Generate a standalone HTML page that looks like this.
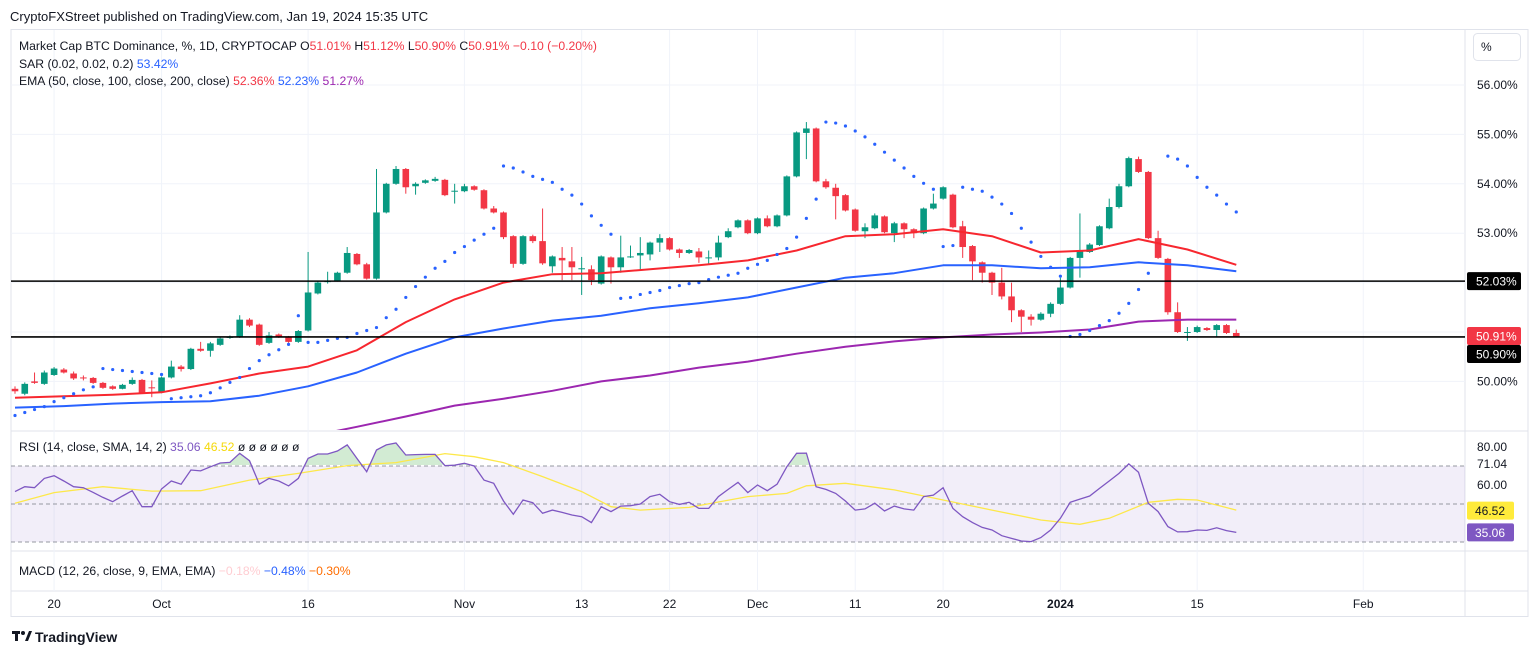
<!DOCTYPE html>
<html><head><meta charset="utf-8"><style>
body{margin:0;background:#fff;font-family:"Liberation Sans",sans-serif;}
svg text{font-family:"Liberation Sans",sans-serif;}
</style></head><body>
<svg id="c" width="1536" height="656" viewBox="0 0 1536 656" xmlns="http://www.w3.org/2000/svg">
<defs>
<clipPath id="pp"><rect x="11" y="30" width="1454" height="400"/></clipPath>
<clipPath id="rp"><rect x="11" y="432" width="1454" height="118"/></clipPath>
<clipPath id="above70"><rect x="11" y="432" width="1454" height="33"/></clipPath>
</defs>
<rect x="0" y="0" width="1536" height="656" fill="#fff"/>
<text x="10" y="21" font-size="13" fill="#131722">CryptoFXStreet published on TradingView.com, Jan 19, 2024 15:35 UTC</text>
<rect x="11" y="29.5" width="1517" height="587" fill="none" stroke="#e0e3eb"/>
<g id="grid"></g>
<g id="rsiBg"></g>
<g clip-path="url(#pp)" id="price"></g>
<g clip-path="url(#rp)" id="rsi"></g>
<g id="axes"></g>
<g font-size="12.2">
<text x="19" y="50" fill="#131722">Market Cap BTC Dominance, %, 1D, CRYPTOCAP  <tspan fill="#131722">O</tspan><tspan fill="#f23645">51.01%</tspan> <tspan fill="#131722">H</tspan><tspan fill="#f23645">51.12%</tspan> <tspan fill="#131722">L</tspan><tspan fill="#f23645">50.90%</tspan> <tspan fill="#131722">C</tspan><tspan fill="#f23645">50.91%</tspan> <tspan fill="#f23645">−0.10 (−0.20%)</tspan></text>
<text x="19" y="68" fill="#131722">SAR (0.02, 0.02, 0.2) <tspan fill="#2962ff">53.42%</tspan></text>
<text x="19" y="85" fill="#131722">EMA (50, close, 100, close, 200, close) <tspan fill="#f23645">52.36%</tspan> <tspan fill="#2962ff">52.23%</tspan> <tspan fill="#9c27b0">51.27%</tspan></text>
<text x="19" y="451" fill="#131722">RSI (14, close, SMA, 14, 2) <tspan fill="#7e57c2">35.06</tspan> <tspan fill="#f5d90a">46.52</tspan> <tspan fill="#131722">ø ø ø ø ø ø</tspan></text>
<text x="19" y="575" fill="#131722">MACD (12, 26, close, 9, EMA, EMA) <tspan fill="#ffcdd2">−0.18%</tspan> <tspan fill="#2962ff">−0.48%</tspan> <tspan fill="#ff6d00">−0.30%</tspan></text>
</g>
<g><rect x="1473.5" y="33.5" width="47" height="27" rx="4" fill="#fff" stroke="#e0e3eb"/><text x="1481" y="51" font-size="12" fill="#131722">%</text></g>
<g><rect x="12" y="631" width="8" height="3" fill="#131722"/><rect x="15" y="631" width="3" height="10" fill="#131722"/><circle cx="23" cy="633" r="2" fill="#131722"/><path d="M25 641 L29 631 L32 631 L28 641Z" fill="#131722"/><text x="35" y="642" font-size="14" font-weight="bold" fill="#131722">TradingView</text></g>
</svg>
<script>
const opens=[49.85,49.75,50.00,49.95,50.13,50.24,50.16,50.08,50.07,49.97,49.90,49.85,49.95,50.03,49.88,49.78,50.08,50.30,50.25,50.66,50.62,50.74,50.88,50.90,51.25,51.15,50.78,50.95,50.90,50.80,51.03,51.78,52.01,52.04,52.20,52.58,52.37,52.08,53.42,54.00,54.30,53.95,54.02,54.06,54.08,53.84,53.85,53.95,53.87,53.50,53.42,52.94,52.38,52.94,52.84,52.33,52.50,52.43,52.29,52.27,51.98,52.51,52.31,52.51,52.55,52.57,52.81,52.90,52.67,52.60,52.63,52.51,52.51,52.92,53.12,53.26,53.00,53.30,53.14,53.36,54.15,55.03,55.12,54.05,53.92,53.77,53.48,53.04,53.10,53.34,53.00,53.20,53.08,53.00,53.50,53.70,53.78,53.14,52.74,52.41,52.20,52.00,51.72,51.44,51.31,51.25,51.37,51.57,51.90,52.50,52.62,52.76,53.10,53.53,53.95,54.50,54.24,52.90,52.48,51.40,51.00,51.00,51.08,51.04,51.14,50.98];
const closes=[49.80,49.95,49.97,50.18,50.26,50.18,50.06,50.07,49.97,49.87,49.85,49.93,50.03,49.77,49.86,50.08,50.30,50.25,50.66,50.62,50.77,50.87,50.90,51.25,51.13,50.74,50.93,50.90,50.80,51.02,51.80,52.00,52.03,52.20,52.60,52.37,52.08,53.42,54.00,54.30,53.93,54.00,54.07,54.10,53.77,53.86,53.95,53.88,53.50,53.42,52.92,52.38,52.94,52.84,52.39,52.53,52.45,52.31,52.29,52.05,52.53,52.31,52.51,52.53,52.60,52.81,52.90,52.67,52.60,52.66,52.51,52.51,52.81,53.04,53.26,53.00,53.30,53.14,53.36,54.15,55.04,55.12,54.05,53.93,53.75,53.46,53.05,53.12,53.36,53.02,53.20,53.08,53.00,53.50,53.60,53.93,53.12,52.72,52.43,52.20,52.00,51.72,51.44,51.31,51.25,51.37,51.57,51.90,52.50,52.65,52.77,53.14,53.53,53.95,54.52,54.24,52.90,52.50,51.40,51.00,51.00,51.10,51.04,51.14,50.98,50.91];
const highs=[49.90,49.98,50.18,50.22,50.29,50.27,50.20,50.12,50.09,49.99,49.92,49.95,50.08,50.05,50.02,50.10,50.42,50.33,50.68,50.80,50.80,50.90,50.93,51.34,51.28,51.17,51.00,50.97,50.92,51.04,52.62,52.03,52.22,52.22,52.72,52.60,52.40,54.30,54.02,54.36,54.32,54.03,54.09,54.14,54.10,54.00,54.00,53.97,53.89,53.55,53.44,52.96,52.96,52.97,53.50,52.55,52.72,52.72,52.52,52.35,52.55,52.53,52.95,52.75,52.92,52.83,52.98,52.92,52.69,52.68,52.70,52.65,52.95,53.10,53.28,53.28,53.32,53.36,53.38,54.17,55.06,55.25,55.14,54.10,54.00,53.79,53.50,53.20,53.40,53.36,53.23,53.22,53.10,53.52,53.80,53.95,53.80,53.25,52.76,52.43,52.22,52.30,52.00,51.46,51.36,51.40,51.60,52.10,52.52,53.40,52.80,53.16,53.70,54.00,54.55,54.55,54.26,53.05,52.50,51.60,51.10,51.13,51.10,51.16,51.16,51.05];
const lows=[49.75,49.72,49.95,49.93,50.11,50.16,50.03,50.02,49.95,49.85,49.83,49.84,49.93,49.75,49.68,49.76,50.06,50.20,50.23,50.60,50.50,50.72,50.86,50.88,51.10,50.72,50.76,50.88,50.78,50.78,51.01,51.76,51.98,52.02,52.18,52.35,52.06,52.06,53.40,53.98,53.80,53.78,54.00,54.04,53.75,53.60,53.83,53.86,53.48,53.40,52.88,52.30,52.36,52.80,52.36,52.20,52.05,52.05,51.75,51.95,51.96,51.98,52.20,52.50,52.25,52.45,52.62,52.65,52.50,52.58,52.40,52.38,52.45,52.90,53.10,52.98,52.98,53.12,53.12,53.34,54.13,54.50,54.03,53.90,53.28,53.44,53.03,52.90,53.08,53.00,52.82,52.90,52.90,52.98,53.48,53.68,53.10,52.50,52.05,52.00,51.75,51.66,51.20,51.00,51.13,51.23,51.30,51.55,51.88,52.10,52.60,52.74,53.08,53.50,53.93,54.22,52.88,52.48,51.35,50.98,50.82,50.98,51.02,50.90,50.96,50.90];
const sar=[49.31,49.37,49.43,49.49,49.59,49.67,49.75,49.83,49.89,50.26,50.24,50.22,50.20,50.18,50.16,50.14,49.65,49.67,49.69,49.71,49.77,49.87,49.98,50.08,50.26,50.42,50.54,50.64,50.75,51.33,50.79,50.79,50.83,50.87,50.89,50.97,51.03,51.09,51.29,51.46,51.70,51.92,52.11,52.29,52.43,52.61,52.73,52.86,52.98,53.10,54.36,54.32,54.24,54.15,54.09,54.03,53.89,53.77,53.59,53.35,53.16,52.98,51.68,51.70,51.76,51.80,51.84,51.90,51.94,51.98,52.00,52.06,52.11,52.15,52.19,52.29,52.37,52.45,52.57,52.69,52.92,53.30,53.69,55.25,55.23,55.17,55.07,54.95,54.80,54.64,54.48,54.32,54.15,54.01,53.89,52.73,52.75,53.93,53.89,53.85,53.73,53.59,53.40,53.10,52.82,52.53,52.31,52.13,50.91,50.95,51.03,51.13,51.23,51.38,51.58,51.86,52.19,null,54.56,54.50,54.36,54.13,53.93,53.77,53.59,53.43];
const ema50=[49.67,49.70,49.73,49.78,49.96,50.16,50.30,50.63,51.20,51.66,52.00,52.17,52.19,52.27,52.35,52.45,52.65,52.94,52.98,53.08,52.94,52.61,52.65,52.88,52.67,52.36];
const ema100=[49.47,49.50,49.55,49.58,49.60,49.71,49.90,50.18,50.56,50.89,51.07,51.23,51.33,51.48,51.58,51.70,51.90,52.10,52.19,52.35,52.35,52.29,52.31,52.41,52.35,52.23];
const ema200=[48.88,49.08,49.29,49.51,49.65,49.81,50.00,50.12,50.28,50.40,50.56,50.70,50.81,50.89,50.95,50.99,51.05,51.21,51.25,51.25];
const rsi=[56.5,59.1,58.6,63.5,64.9,62.1,59.1,58.6,56.1,53.5,51.2,54.2,57.0,48.6,48.6,57.9,62.1,60.4,67.9,67.4,69.6,71.6,71.9,76.7,72.8,60.4,63.5,62.1,59.5,63.5,74.0,76.3,76.3,77.9,81.1,74.0,67.0,78.4,81.1,82.1,75.8,76.0,76.1,76.1,70.2,70.4,71.4,70.0,62.6,60.9,51.6,44.6,52.1,50.7,45.1,46.8,45.6,44.2,43.3,40.2,48.6,46.0,48.9,49.1,50.0,53.9,55.1,51.2,49.8,50.9,47.7,47.7,53.9,57.7,61.4,56,60,57,60.4,69.6,76.7,76.8,59.1,57.7,55.6,51.6,46.8,47.4,50.4,46.3,48.9,47.4,46.8,53.9,54.7,58.6,47.7,43.3,40.2,37.7,36.3,33.3,31.9,30.5,30.2,32.3,36.3,42.5,50.9,52.6,54.2,58.2,62.1,66.1,71.1,66.7,50.4,46.0,38.1,35.3,35.4,36.3,36.1,37.5,36.0,35.06];
const rsiMaIdx=[0,4,9,14,19,24,29,34,39,44,47,50,54,58,61,64,69,75,79,81,85,90,95,100,105,109,112,116,119,121,125];
const rsiMa=[50.4,56,59.1,56.8,57,62.6,66.1,70.2,71.8,76.5,74.9,71.8,64.4,56.5,48.6,46.8,48.2,53.9,55.6,59.6,60.9,57.4,52.1,46.8,41.6,39.3,42.5,50.9,52.5,52.1,46.8];
const priceTicks=[56,55,54,53,52,51,50];
const hLevels=[52.03,50.90];
const dateLabels=["20","Oct","16","Nov","13","22","Dec","11","20","2024","15","Feb"];
const dateIdx=[4,15,30,46,58,67,76,86,95,107,121,138];

const NS="http://www.w3.org/2000/svg";
const X=i=>15+i*9.77;
const PY=v=>85+(56-v)*49.4;
const RY=v=>504-(v-50)*1.9;
function mk(tag,attrs,parent){const e=document.createElementNS(NS,tag);for(const k in attrs)e.setAttribute(k,attrs[k]);parent.appendChild(e);return e;}
const grid=document.getElementById('grid'),price=document.getElementById('price'),rsiG=document.getElementById('rsi'),axes=document.getElementById('axes'),rsiBg=document.getElementById('rsiBg');

let s1=mk('line',{x1:11,x2:1528,y1:431,y2:431,stroke:'#e0e3eb'},grid);


let s2=mk('line',{x1:11,x2:1528,y1:551,y2:551,stroke:'#e0e3eb'},grid);


let s3=mk('line',{x1:11,x2:1528,y1:591,y2:591,stroke:'#e0e3eb'},grid);


let s4=mk('line',{x1:1465,x2:1465,y1:30,y2:616,stroke:'#e0e3eb'},grid);



dateLabels.forEach((t,k)=>{
  const x=X(dateIdx[k]);
  const l=mk('line',{x1:x,x2:x,y1:30,y2:591,stroke:'#f0f3fa'},grid);
  
  
  const tx=mk('text',{x:x,y:608,'font-size':12,'text-anchor':'middle',fill:'#131722','font-weight':t==='2024'?'bold':'normal'},axes);
  tx.textContent=t;
  
  
});
priceTicks.forEach(v=>{
  const y=PY(v);
  const l=mk('line',{x1:11,x2:1465,y1:y,y2:y,stroke:'#f0f3fa'},grid);
  
  
  const t=mk('text',{x:1477,y:y+4,'font-size':12,fill:'#131722'},axes);
  t.textContent=v.toFixed(2)+'%';
  
  
});
const bandTop=RY(70),bandBot=RY(30);
let band=mk('rect',{x:11,y:bandTop,width:1454,height:bandBot-bandTop,fill:'rgba(126,87,194,0.1)'},rsiBg);


[70,50,30].forEach(v=>{
  const l=mk('line',{x1:11,x2:1465,y1:RY(v),y2:RY(v),stroke:'#9598a1','stroke-dasharray':'4,3'},rsiBg);
  
  
});
[[80,'80.00'],[71.04,'71.04'],[60,'60.00'],[35.18,'35.18']].forEach(([v,t])=>{
  const tx=mk('text',{x:1477,y:RY(v)+4,'font-size':12,fill:'#131722'},axes);
  tx.textContent=t;
  
  
});

for(let i=0;i<closes.length;i++){
  const up=closes[i]>=opens[i],col=up?'#089981':'#f23645',x=X(i);
  const w=mk('line',{x1:x,x2:x,y1:PY(highs[i]),y2:PY(lows[i]),stroke:col,'stroke-width':1},price);
  
  
  const yt=PY(Math.max(opens[i],closes[i])),yb=PY(Math.min(opens[i],closes[i]));
  const b=mk('rect',{x:x-3.3,y:yt,width:6.6,height:Math.max(1,yb-yt),fill:col},price);
  
  
}
function line(arr,start,step,col,yf,parent,w){
  const pts=arr.map((v,k)=>X(start+k*step).toFixed(1)+','+yf(v).toFixed(1)).join(' ');
  return mk('polyline',{points:pts,fill:'none',stroke:col,'stroke-width':w,'stroke-linejoin':'round'},parent);
}
let e1=line(ema50,0,5,'#f7272f',PY,price,2);


let e2=line(ema100,0,5,'#2962ff',PY,price,2);


let e3=line(ema200,30,5,'#9c27b0',PY,price,2);


sar.forEach((v,i)=>{
  if(v===null)return;
  const d=mk('circle',{cx:X(i),cy:PY(v),r:1.6,fill:'#2962ff'},price);
  
  
});
hLevels.forEach(v=>{
  const l=mk('line',{x1:11,x2:1470,y1:PY(v),y2:PY(v),stroke:'#000','stroke-width':1.6},price);
  
  
});
function tag(v,txt,bg,fg,name,yf,dy){
  const y=yf(v)+(dy||0);
  const g=mk('g',{},axes);
  
  
  mk('rect',{x:1467,y:y-9,width:54,height:18,rx:2,fill:bg},g);
  const t=mk('text',{x:1476,y:y+4.5,'font-size':12,fill:fg},g);t.textContent=txt;
}
tag(52.03,'52.03%','#000','#fff','level-label-52-03',PY,0);
tag(closes[closes.length-1],closes[closes.length-1].toFixed(2)+'%','#f23645','#fff','last-price-label',PY,-0.5);
tag(50.90,'50.90%','#000','#fff','level-label-50-90',PY,17);

const rsiPts=rsi.map((v,i)=>X(i).toFixed(1)+','+RY(v).toFixed(1));
let fill=mk('polygon',{points:X(0)+','+RY(70)+' '+rsiPts.join(' ')+' '+X(rsi.length-1)+','+RY(70),fill:'rgba(76,175,80,0.25)','clip-path':'url(#above70)'},rsiG);


const maPts=rsiMa.map((v,k)=>X(rsiMaIdx[k]).toFixed(1)+','+RY(v).toFixed(1)).join(' ');
let ma=mk('polyline',{points:maPts,fill:'none',stroke:'#fde84a','stroke-width':1.3},rsiG);


let rl=mk('polyline',{points:rsiPts.join(' '),fill:'none',stroke:'#7e57c2','stroke-width':1.3},rsiG);


function rtag(v,txt,bg,fg,name){
  const y=RY(v);
  const g=mk('g',{},axes);
  
  
  mk('rect',{x:1467,y:y-9,width:47,height:18,rx:2,fill:bg},g);
  const t=mk('text',{x:1475,y:y+4.5,'font-size':12,fill:fg},g);t.textContent=txt;
}
rtag(46.52,'46.52','#ffeb3b','#131722','rsi-ma-value-label');
rtag(rsi[rsi.length-1],rsi[rsi.length-1].toFixed(2),'#7e57c2','#fff','rsi-value-label');
</script>
</body></html>
